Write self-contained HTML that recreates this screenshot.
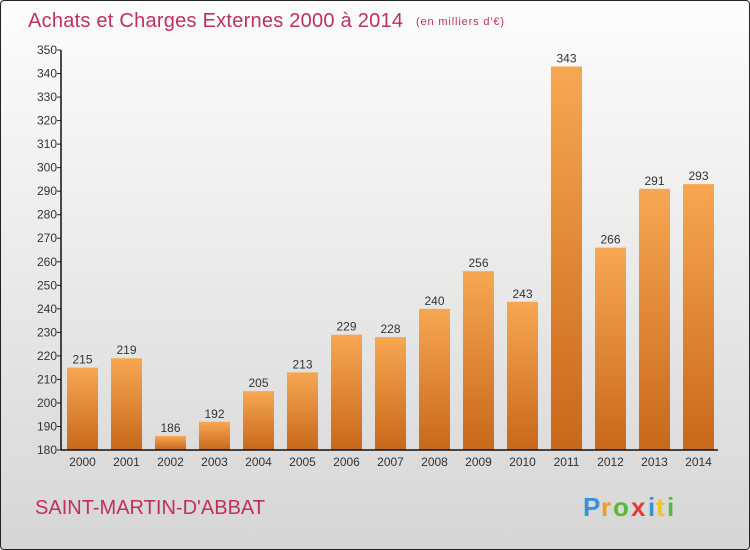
<!DOCTYPE html>
<html><head><meta charset="utf-8"><style>
html,body{margin:0;padding:0;}
body{width:750px;height:550px;overflow:hidden;font-family:"Liberation Sans",sans-serif;}
#frame{position:absolute;left:0;top:0;width:748px;height:548px;border:1px solid #222;border-radius:4px;background:linear-gradient(#fdfdfd,#d6d6d6);}
</style></head><body>
<div id="frame">
<svg width="750" height="550" style="position:absolute;left:-1px;top:-1px" id="chart">
<defs>
<linearGradient id="bg" x1="0" y1="0" x2="0" y2="1"><stop offset="0" stop-color="#f7a751"/><stop offset="1" stop-color="#c8681a"/></linearGradient>
</defs>
<text x="28" y="27" font-size="20" fill="#c0305a" textLength="375">Achats et Charges Externes 2000 à 2014</text>
<text x="416" y="25" font-size="11" fill="#c0305a" textLength="88">(en milliers d'€)</text>
<text x="35" y="514" font-size="20" fill="#c0305a" textLength="230">SAINT-MARTIN-D'ABBAT</text>
<g font-size="26" font-weight="bold">
<text x="583" y="516" fill="#3a8fd8">P</text><text x="601" y="516" fill="#f29a1e">r</text><text x="613" y="516" fill="#5bb83a">o</text><text x="631" y="516" fill="#e23a3a">x</text><text x="648" y="516" fill="#3a8fd8">i</text><text x="656" y="516" fill="#f2c21e">t</text><text x="667" y="516" fill="#5bb83a">i</text>
</g>
<g id="plot"></g>
</svg>
</div>
<script>
const categories=["2000","2001","2002","2003","2004","2005","2006","2007","2008","2009","2010","2011","2012","2013","2014"];
const values=[215,219,186,192,205,213,229,228,240,256,243,343,266,291,293];
const yTicks=[180,190,200,210,220,230,240,250,260,270,280,290,300,310,320,330,340,350];
const yMin=180,yMax=350,y0=450,y1=50,ax=61,x0=82.5,step=44,bw=31;
const ys=v=>y0-(v-yMin)/(yMax-yMin)*(y0-y1);
const xs=i=>x0+i*step;
const NS="http://www.w3.org/2000/svg",g=document.getElementById('plot');
function mk(t,a,txt){const e=document.createElementNS(NS,t);for(const k in a)e.setAttribute(k,a[k]);if(txt!=null)e.textContent=txt;g.appendChild(e);return e;}
values.forEach((v,i)=>{
 const r=mk('rect',{x:xs(i)-bw/2,y:ys(v),width:bw,height:y0-ys(v),fill:'url(#bg)'});
 
 
 const t=mk('text',{x:xs(i),y:ys(v)-4,'text-anchor':'middle','font-size':12,fill:'#333'},v);
 
 
 const c=mk('text',{x:xs(i),y:y0+16,'text-anchor':'middle','font-size':12,fill:'#333'},categories[i]);
 
 
});
yTicks.forEach(v=>{
 const l=mk('line',{x1:ax-4,x2:ax,y1:ys(v),y2:ys(v),stroke:'#222'});
 
 
 const t=mk('text',{x:ax-4,y:ys(v)+4,'text-anchor':'end','font-size':12,fill:'#333'},v);
 
 
});
const ya=mk('line',{x1:ax,x2:ax,y1:y1,y2:y0,stroke:'#111','stroke-width':1.5});


const xa=mk('line',{x1:ax,x2:718,y1:y0,y2:y0,stroke:'#111','stroke-width':1.5});


</script>
</body></html>
